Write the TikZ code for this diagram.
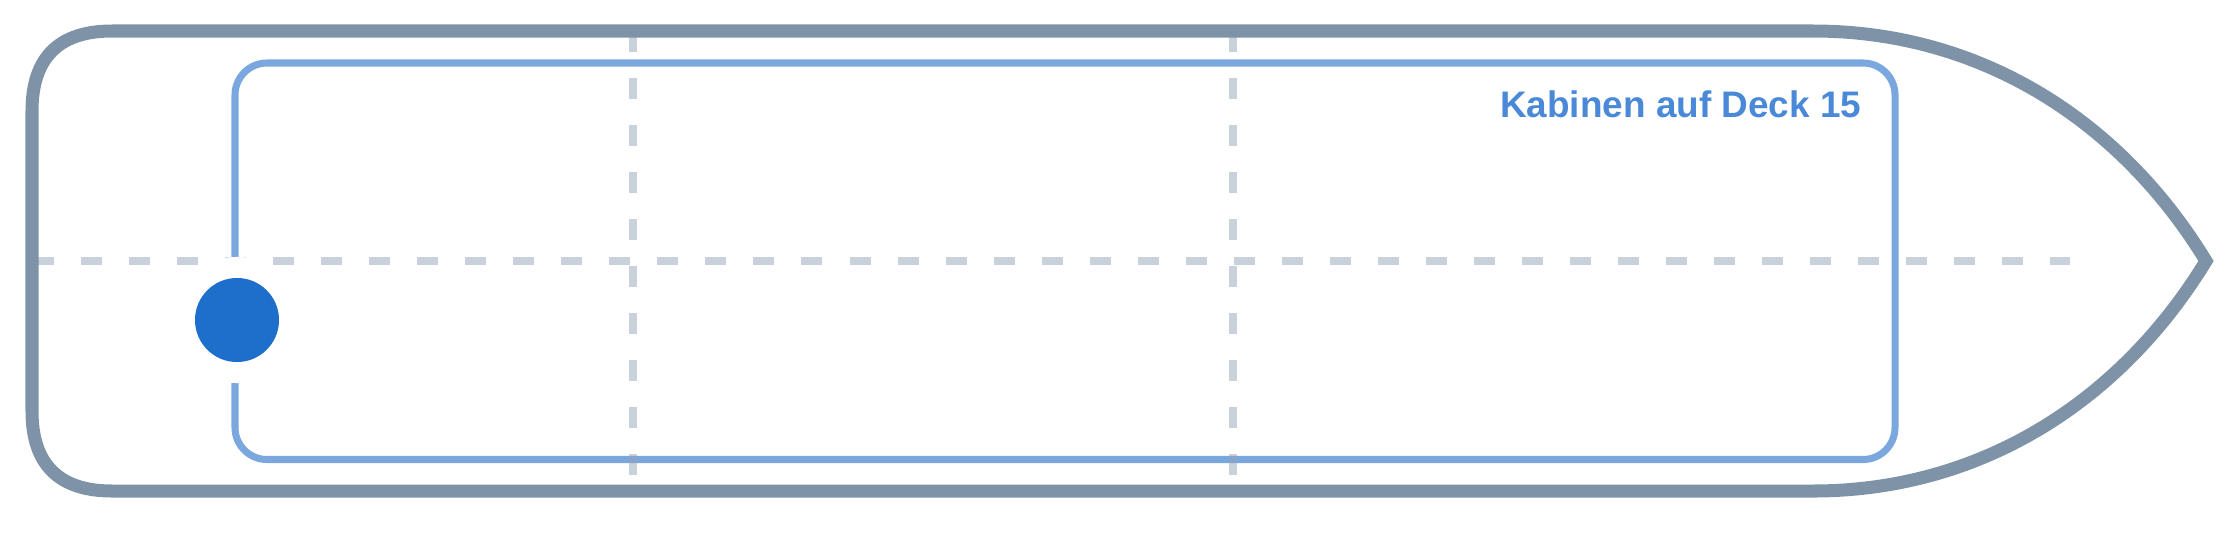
\documentclass[tikz,border=0pt]{standalone}
\usepackage{fontspec}
\setmainfont{Liberation Sans}
\usepackage{tikz}

\definecolor{hullgrey}{RGB}{127,147,168}
\definecolor{deckblue}{RGB}{122,168,222}
\definecolor{gridgrey}{RGB}{148,163,184}
\definecolor{labelblue}{RGB}{74,137,216}
\definecolor{dotblue}{RGB}{30,111,204}

\begin{document}
\begin{tikzpicture}
	 [x=0.01cm,y=-0.01cm,
	  hull/.style={draw=hullgrey,line width=3.7pt,line join=miter},
	  deck/.style={draw=deckblue,line width=2pt,rounded corners=0.32cm},
	  grid/.style={draw=gridgrey,line width=2.2pt,opacity=.5},
	  every node/.style={circle,fill=dotblue,inner sep=0pt}]
	\useasboundingbox (0,0) rectangle (2240,533);

	\draw[deck] (235,63) rectangle (1895,459.5);

	\foreach \x in {633,1233}
    \draw[grid,dash pattern=on 0.21cm off 0.26cm] (\x,31) -- (\x,490);
	\draw[grid,dash pattern=on 0.21cm off 0.27cm] (33,261) -- (2070,261);

	\draw[hull] (112,31) -- (1813,31)
	  .. controls (1980,31) and (2120,120) .. (2206,261)
	  .. controls (2120,402) and (1980,491) .. (1813,491) -- (112,491)
	  .. controls (58.7,491) and (32,464.3) .. (32,411) -- (32,111)
	  .. controls (32,57.7) and (58.7,31) .. cycle;

	  \node[fill=white,minimum size=1.26cm] (halo) at (237,320) {};
	  \node[minimum size=0.84cm] (dot) at (237,320) {};

	  \node[rectangle,fill=none,text=labelblue,anchor=base east,
	    font=\bfseries\fontsize{10.5}{12}\selectfont] (L1) at (1862,117) {Kabinen auf Deck 15};

\end{tikzpicture}
\end{document}
